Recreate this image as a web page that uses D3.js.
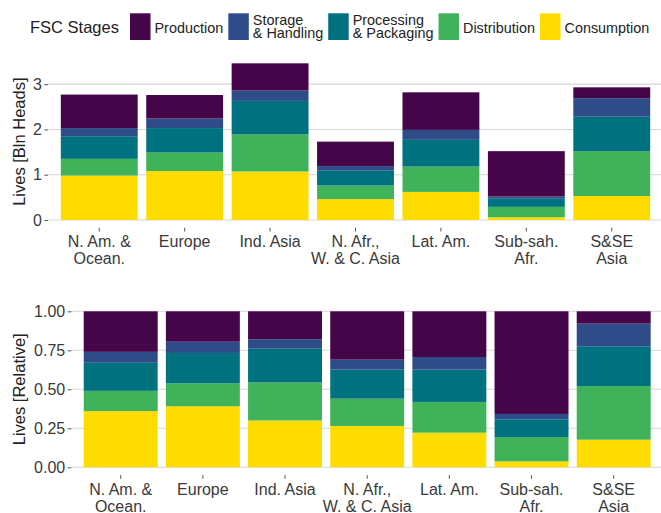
<!DOCTYPE html>
<html>
<head>
<meta charset="utf-8">
<script src="https://cdn.jsdelivr.net/npm/d3@7"></script>
<style>
  body { margin: 0; background: #fff; }
  svg { display: block; font-family: "Liberation Sans", Arial, sans-serif; }
</style>
</head>
<body>
<svg id="chart" width="661" height="513"></svg>
<script>
// regions, two-line labels split on '\n'
var regions = ['N. Am. &\nOcean.', 'Europe', 'Ind. Asia', 'N. Afr.,\nW. & C. Asia',
               'Lat. Am.', 'Sub-sah.\nAfr.', 'S&SE\nAsia'];

var stages = ['Production', 'Storage\n& Handling', 'Processing\n& Packaging', 'Distribution', 'Consumption'];
var stageColors = ['#440549', '#2e4c88', '#00727f', '#3fb25a', '#ffdc00'];

// absolute lives lost (bln heads)
var production   = [0.74, 0.52, 0.60, 0.54, 0.83, 1.00, 0.24];
var storage      = [0.18, 0.21, 0.23, 0.10, 0.22, 0.04, 0.41];
var processing   = [0.50, 0.54, 0.74, 0.33, 0.59, 0.19, 0.76];
var distribution = [0.37, 0.41, 0.82, 0.30, 0.56, 0.23, 0.99];
var consumption  = [0.98, 1.08, 1.07, 0.46, 0.62, 0.06, 0.53];

// relative shares
var relProduction   = [0.260, 0.195, 0.179, 0.310, 0.293, 0.658, 0.079];
var relStorage      = [0.070, 0.072, 0.061, 0.064, 0.081, 0.034, 0.145];
var relProcessing   = [0.180, 0.195, 0.216, 0.186, 0.207, 0.114, 0.255];
var relDistribution = [0.130, 0.147, 0.244, 0.175, 0.197, 0.156, 0.344];
var relConsumption  = [0.360, 0.391, 0.300, 0.265, 0.222, 0.038, 0.177];

var topTicks = [0, 1, 2, 3];
var bottomTicks = [0, 0.25, 0.5, 0.75, 1];

var svg = d3.select('#chart');
var textColor = '#3a3a3a';
var gridColor = '#d6d6d6';
var fontFam = '"Liberation Sans", Arial, sans-serif';

function rows(series) {
    return regions.map(function(r, i) {
        var row = { region: r };
        stages.forEach(function(s, k) { row[s] = series[k][i]; });
        return row;
    });
}

function multiline(sel, lineGap) {
    sel.each(function(d) {
        var t = d3.select(this), lines = String(d).split('\n');
        t.text(null);
        lines.forEach(function(line, i) {
            t.append('tspan').attr('x', 0).attr('dy', i === 0 ? '0.71em' : lineGap).text(line);
        });
    });
}

function panel(opts) {
    var data = rows(opts.series);
    // stack from bottom: consumption first
    var stack = d3.stack().keys(stages.slice().reverse())(data);
    var maxV = d3.max(data, function(d) { return d3.sum(stages, function(s) { return d[s]; }); });
    var pad = maxV * 0.05;

    var x = d3.scaleBand().domain(regions)
        .range([opts.left, opts.right]).paddingInner(0.1).paddingOuter(0.15);
    var y = d3.scaleLinear().domain([-pad, maxV + pad]).range([opts.bottom, opts.top]);

    var g = svg.append('g');

    g.append('g').selectAll('line').data(opts.ticks).join('line')
        .attr('x1', opts.left).attr('x2', 661)
        .attr('y1', function(d) { return y(d); }).attr('y2', function(d) { return y(d); })
        .attr('stroke', gridColor).attr('stroke-width', 1.1);

    g.append('g').selectAll('g').data(stack).join('g')
        .attr('fill', function(s) { return stageColors[stages.indexOf(s.key)]; })
        .selectAll('rect').data(function(s) { return s; }).join('rect')
        .attr('x', function(d) { return x(d.data.region); })
        .attr('width', x.bandwidth())
        .attr('y', function(d) { return y(d[1]); })
        .attr('height', function(d) { return y(d[0]) - y(d[1]); });

    var yAxis = g.append('g').attr('transform', 'translate(' + opts.left + ',0)')
        .call(d3.axisLeft(y).tickValues(opts.ticks).tickFormat(d3.format(opts.fmt))
            .tickSize(3.7).tickPadding(2.5));
    yAxis.select('.domain').remove();
    yAxis.selectAll('line').attr('stroke', '#555');
    yAxis.selectAll('text').attr('fill', textColor).style('font-size', '16px')
        .style('font-family', fontFam);

    var xAxis = g.append('g').attr('transform', 'translate(0,' + opts.bottom + ')')
        .call(d3.axisBottom(x).tickSize(3.7).tickPadding(4.5));
    xAxis.select('.domain').remove();
    xAxis.selectAll('line').attr('stroke', '#555');
    xAxis.selectAll('text').attr('fill', textColor).style('font-size', '16px')
        .style('font-family', fontFam)
        .call(multiline, '1.07em');

    g.append('text')
        .attr('transform', 'translate(25,' + ((opts.top + opts.bottom) / 2) + ') rotate(-90)')
        .attr('text-anchor', 'middle').attr('fill', '#222')
        .style('font-size', '16.5px').text(opts.title);
}

panel({ series: [production, storage, processing, distribution, consumption],
        left: 48, right: 663, top: 55.5, bottom: 227.8,
        ticks: topTicks, fmt: 'd', title: 'Lives [Bln Heads]' });

panel({ series: [relProduction, relStorage, relProcessing, relDistribution, relConsumption],
        left: 71.4, right: 663, top: 303.5, bottom: 475.1,
        ticks: bottomTicks, fmt: '.2f', title: 'Lives [Relative]' });

// legend
var legend = svg.append('g');
legend.append('text').attr('x', 30).attr('y', 33.3).attr('fill', '#222')
    .style('font-size', '16.5px').text('FSC Stages');

var kx = 130;
stages.forEach(function(s, i) {
    legend.append('rect').attr('x', kx).attr('y', 13.3).attr('width', 20.5).attr('height', 26.7)
        .attr('fill', stageColors[i]);
    var lines = s.split('\n');
    var t = legend.append('text').attr('fill', '#222').style('font-size', '14.4px');
    lines.forEach(function(line, j) {
        t.append('tspan').attr('x', kx + 24.5)
            .attr('y', lines.length === 1 ? 33.3 : 25.3 + j * 12.8).text(line);
    });
    kx += 24.5 + t.node().getBBox().width + 5;
});
</script>
</body>
</html>
